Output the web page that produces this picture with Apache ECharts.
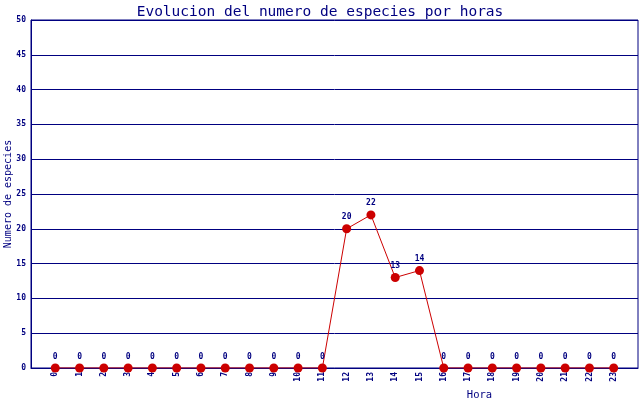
<!DOCTYPE html>
<html><head><meta charset="utf-8">
<script src="https://cdn.jsdelivr.net/npm/echarts@6/dist/echarts.min.js"></script>
<style>html,body{margin:0;padding:0;background:#fff}#c{width:640px;height:400px}</style>
</head><body><div id="c"></div>
<script>
const hours = [0,1,2,3,4,5,6,7,8,9,10,11,12,13,14,15,16,17,18,19,20,21,22,23];
const species = [0,0,0,0,0,0,0,0,0,0,0,0,20,22,13,14,0,0,0,0,0,0,0,0];
const yTicks = [0,5,10,15,20,25,30,35,40,45,50];
const navy = '#000080';
const chart = echarts.init(document.getElementById('c'), null, {renderer:'canvas'});
chart.setOption({
  animation:false,
  title:{text:'Evolucion del numero de especies por horas', left:'center', top:0,
    textStyle:{color:navy, fontFamily:'DejaVu Sans Mono', fontSize:14.5, fontWeight:'normal'}},
  grid:{left:31, right:2, top:20, bottom:32, show:true, borderColor:navy, borderWidth:1,
    containLabel:false, outerBoundsMode:'none'},
  xAxis:{type:'value', min:-1, max:24, interval:1,
    name:'Hora', nameLocation:'middle', nameGap:22, nameMoveOverlap:false,
    nameTextStyle:{color:navy, fontFamily:'DejaVu Sans Mono', fontSize:10.5, padding:[0,0,0,290]},
    axisLine:{onZero:false, lineStyle:{color:navy}}, axisTick:{show:false}, splitLine:{show:false},
    axisLabel:{rotate:90, color:navy, fontFamily:'DejaVu Sans Mono', fontSize:8, fontWeight:'bold', margin:4,
      formatter:v=> hours.indexOf(v)>=0 ? String(v) : ''}},
  yAxis:{type:'value', min:yTicks[0], max:yTicks[yTicks.length-1], interval:5,
    name:'Numero de especies', nameLocation:'middle', nameGap:18, nameRotate:90, nameMoveOverlap:false,
    nameTextStyle:{color:navy, fontFamily:'DejaVu Sans Mono', fontSize:10},
    axisLine:{show:true, onZero:false, lineStyle:{color:navy}}, axisTick:{show:false},
    splitLine:{lineStyle:{color:navy, width:1}},
    axisLabel:{color:navy, fontFamily:'DejaVu Sans Mono', fontSize:8, fontWeight:'bold', margin:5}},
  series:[{type:'line', data:hours.map((h,i)=>[h,species[i]]),
    symbol:'circle', symbolSize:9, lineStyle:{color:'#cc0000', width:1},
    itemStyle:{color:'#cc0000'},
    label:{show:true, position:'top', distance:3, color:navy, fontFamily:'DejaVu Sans Mono', fontSize:8, fontWeight:'bold',
      formatter:p=>String(p.value[1])}}]
});
</script></body></html>
